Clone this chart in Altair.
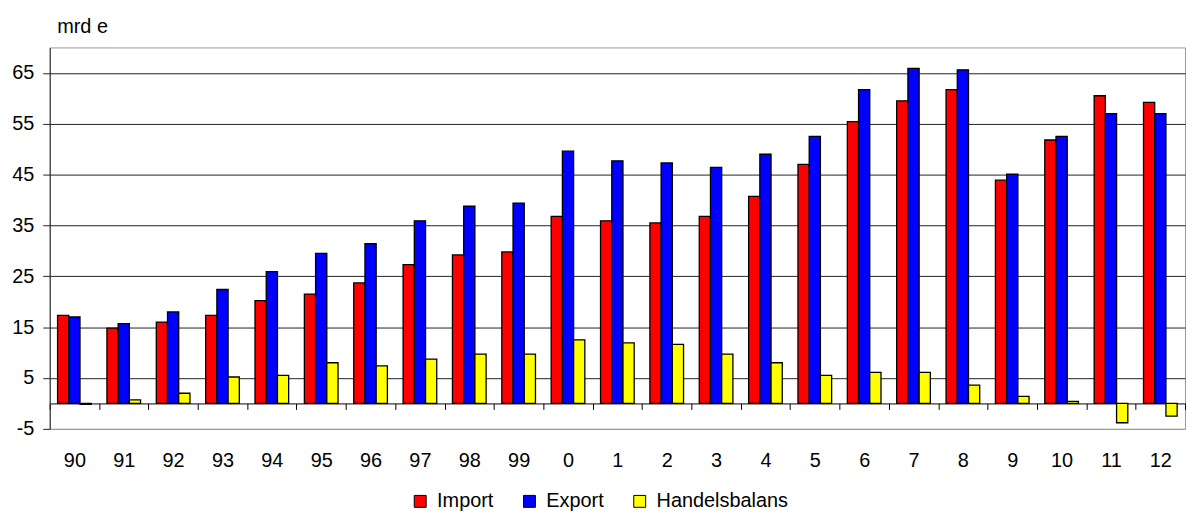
import altair as alt
import pandas as pd

years = ["90", "91", "92", "93", "94", "95", "96", "97", "98", "99", "0", "1",
         "2", "3", "4", "5", "6", "7", "8", "9", "10", "11", "12"]
import_vals = [17.3, 14.8, 16.0, 17.3, 20.2, 21.5, 23.7, 27.3, 29.2, 29.8, 36.8, 35.9,
               35.5, 36.8, 40.7, 47.0, 55.4, 59.5, 61.7, 43.9, 51.8, 60.5, 59.2]
export_vals = [17.0, 15.7, 18.0, 22.4, 25.9, 29.5, 31.4, 35.9, 38.8, 39.4, 49.6, 47.7,
               47.3, 46.4, 49.0, 52.5, 61.7, 65.9, 65.6, 45.1, 52.5, 57.0, 57.0]
balans_vals = [-0.2, 0.7, 2.0, 5.2, 5.5, 8.0, 7.4, 8.7, 9.7, 9.7, 12.5, 11.9,
               11.6, 9.7, 8.0, 5.5, 6.1, 6.1, 3.6, 1.4, 0.4, -3.8, -2.5]
series = ["Import", "Export", "Handelsbalans"]
colors = ["#FF0000", "#0000FF", "#FFFF00"]
y_ticks = [-5, 5, 15, 25, 35, 45, 55, 65]
y_min, y_max = -5, 70

rows = []
for name, vals in zip(series, [import_vals, export_vals, balans_vals]):
    for yr, v in zip(years, vals):
        rows.append({"year": yr, "series": name, "value": v})
df = pd.DataFrame(rows)

W, H = 1143, 384
axis_offset = -H * (0 - y_min) / (y_max - y_min)

FONT = "Liberation Sans"

chart = alt.Chart(df).mark_bar(stroke="black", strokeWidth=1.3).encode(
    x=alt.X("year:N", sort=years,
            scale=alt.Scale(paddingInner=0, paddingOuter=0),
            axis=alt.Axis(title=None, labelAngle=0, labelFontSize=20, labelFont=FONT,
                          labelColor="black", tickBand="extent", tickSize=6,
                          tickColor="black", domainColor="black", offset=axis_offset,
                          labelPadding=41, grid=False)),
    xOffset=alt.XOffset("series:N", sort=series,
                        scale=alt.Scale(paddingOuter=0.7, paddingInner=0)),
    y=alt.Y("value:Q",
            scale=alt.Scale(domain=[y_min, y_max], nice=False, zero=False),
            axis=alt.Axis(values=y_ticks, title="mrd e", titleAngle=0, titleAlign="left",
                          titleBaseline="alphabetic", titleX=7, titleY=-15,
                          titleFontSize=20, titleFont=FONT, titleFontWeight="normal",
                          titleColor="black",
                          labelExpr="toString(datum.value)",
                          labelFontSize=20, labelFont=FONT, labelColor="black",
                          tickSize=7, tickColor="#222", labelPadding=9,
                          domainColor="#222", grid=True,
                          gridColor={"condition": {"test": "datum.value === -5", "value": "#999999"},
                                     "value": "#222222"},
                          gridWidth=1)),
    color=alt.Color("series:N", sort=series,
                    scale=alt.Scale(domain=series, range=colors),
                    legend=alt.Legend(title=None, orient="none", direction="horizontal",
                                      legendX=363, legendY=447,
                                      symbolType="square", symbolSize=144,
                                      symbolStrokeColor="black", symbolStrokeWidth=1,
                                      symbolOpacity=1,
                                      labelFontSize=20, labelFont=FONT, labelColor="black",
                                      labelOffset=7, columnPadding=26)),
).properties(
    width=W, height=H,
    autosize=alt.AutoSizeParams(type="none"),
    padding={"left": 42, "top": 38, "right": 1, "bottom": 84},
).configure_view(stroke="#999999")

chart.save("out.html", embed_options={"renderer": "svg", "actions": False})
